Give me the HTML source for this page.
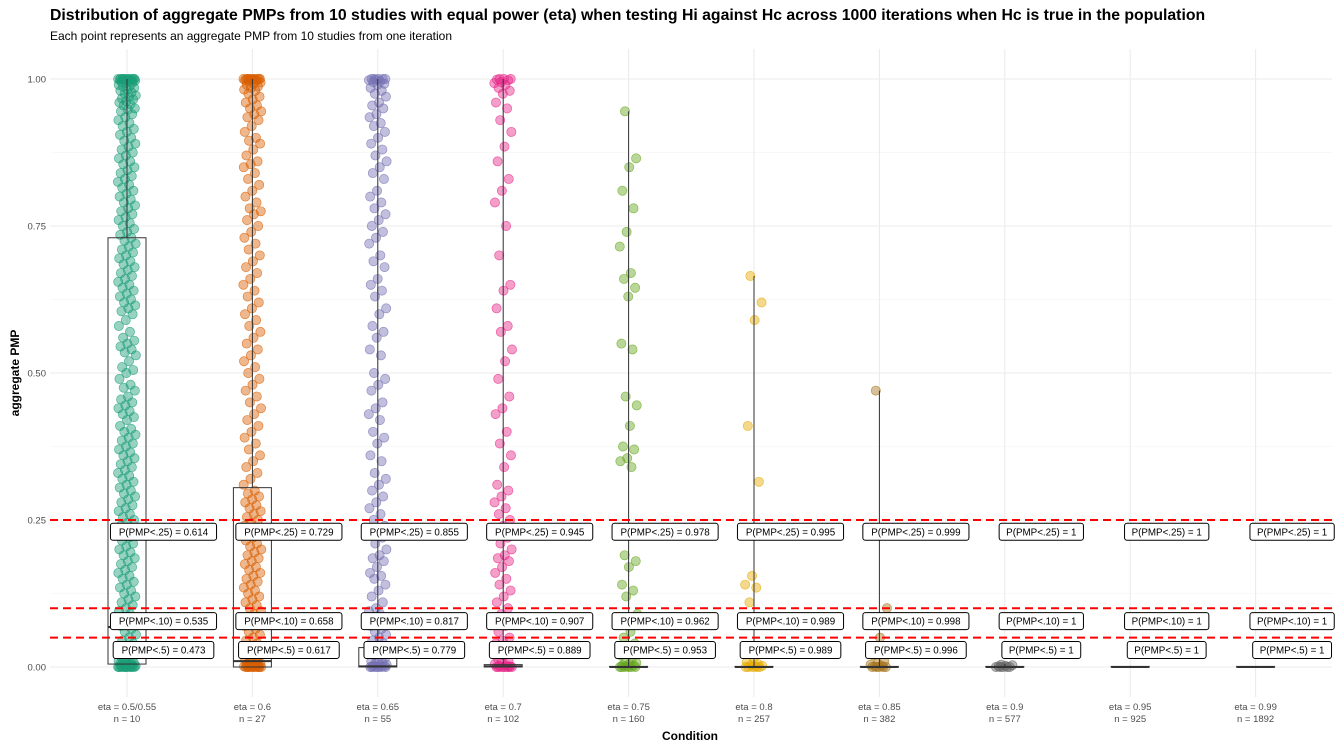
<!DOCTYPE html>
<html><head><meta charset="utf-8"><style>
body{margin:0;background:#fff;font-family:"Liberation Sans",Arial,sans-serif}
svg text{font-family:"Liberation Sans",Arial,sans-serif}
</style></head><body>
<svg id="chart" width="1338" height="749" xmlns="http://www.w3.org/2000/svg">
<text x="50" y="20" font-size="15.8" font-weight="bold" fill="#000">Distribution of aggregate PMPs from 10 studies with equal power (eta) when testing Hi against Hc across 1000 iterations when Hc is true in the population</text>
<text x="50" y="40" font-size="12" fill="#000">Each point represents an aggregate PMP from 10 studies from one iteration</text>
<g id="grid"></g>
<g id="marks"></g>
<g id="axes"></g>
<text transform="translate(19,373) rotate(-90)" text-anchor="middle" font-size="12" font-weight="bold">aggregate PMP</text>
<text x="690" y="740" text-anchor="middle" font-size="12" font-weight="bold">Condition</text>
</svg>
<script>
const categories=["eta = 0.5/0.55","eta = 0.6","eta = 0.65","eta = 0.7","eta = 0.75","eta = 0.8","eta = 0.85","eta = 0.9","eta = 0.95","eta = 0.99"];
const nLabels=["10","27","55","102","160","257","382","577","925","1892"];
const colors=["#1B9E77","#D95F02","#7570B3","#E7298A","#66A61E","#E6AB02","#A6761D","#666666","#666666","#666666"];
const p25=["0.614","0.729","0.855","0.945","0.978","0.995","0.999","1","1","1"];
const p10=["0.535","0.658","0.817","0.907","0.962","0.989","0.998","1","1","1"];
const p05=["0.473","0.617","0.779","0.889","0.953","0.989","0.996","1","1","1"];
const boxLow=[0.005,0,0,0,0,0,0,0,0,0];
const boxHigh=[0.73,0.305,0.033,0.004,0.001,0.001,0.001,0.001,0.001,0.001];
const boxMed=[0.068,0.01,0.001,0.001,0,0,0,0,0,0];
const whiskerHigh=[1,1,1,1,0.945,0.665,0.47,0.005,0.002,0.001];
const yTicks=[0,0.25,0.5,0.75,1];
const yTickLabels=["0.00","0.25","0.50","0.75","1.00"];
const thresholds=[0.25,0.10,0.05];
const g1=[1,1,1,1,1,1,1,1,1,1,0.999,0.999,0.998,0.998,0.997,0.996,0.995,0.994,0.993,0.99,0.988,0.987,0.985,0.982,0.98,0.977,0.975,0.972,0.97,0.967,0.965,0.962,0.96,0.957,0.955,0.95,0.948,0.945,0.94,0.935,0.93,0.925,0.92,0.915,0.91,0.905,0.9,0.895,0.89,0.885,0.88,0.875,0.87,0.865,0.86,0.855,0.85,0.845,0.84,0.835,0.83,0.825,0.82,0.815,0.81,0.805,0.8,0.795,0.79,0.785,0.78,0.775,0.77,0.765,0.76,0.755,0.75,0.745,0.74,0.735,0.73,0.725,0.72,0.715,0.71,0.705,0.7,0.695,0.69,0.685,0.68,0.675,0.67,0.665,0.66,0.655,0.65,0.645,0.64,0.635,0.63,0.625,0.62,0.615,0.61,0.605,0.6,0.59,0.58,0.57,0.56,0.555,0.55,0.545,0.54,0.535,0.53,0.52,0.51,0.505,0.5,0.49,0.48,0.475,0.47,0.46,0.455,0.45,0.445,0.44,0.435,0.43,0.425,0.42,0.41,0.405,0.4,0.395,0.39,0.385,0.38,0.375,0.37,0.365,0.36,0.355,0.35,0.345,0.34,0.335,0.33,0.325,0.32,0.315,0.31,0.305,0.3,0.295,0.29,0.285,0.28,0.275,0.27,0.265,0.26,0.255,0.25,0.245,0.24,0.235,0.23,0.225,0.22,0.215,0.21,0.205,0.2,0.195,0.19,0.185,0.18,0.175,0.17,0.165,0.16,0.155,0.15,0.145,0.14,0.135,0.13,0.125,0.12,0.115,0.11,0.105,0.1,0.095,0.09,0.085,0.08,0.075,0.07,0.065,0.06,0.055,0.05,0.045,0.04,0.035,0.03,0.027,0.025,0.022,0.02,0.017,0.015,0.012,0.01,0.009,0.008,0.007,0.006,0.005,0.004,0.003,0.002,0.002,0.001,0.001,0,0,0,0,0,0,0,0,0,0];
const g2=[1,1,1,1,1,1,1,1,1,1,0.999,0.998,0.997,0.996,0.994,0.992,0.99,0.987,0.985,0.982,0.98,0.975,0.97,0.965,0.96,0.955,0.95,0.945,0.94,0.935,0.93,0.92,0.91,0.9,0.895,0.89,0.88,0.87,0.86,0.855,0.85,0.84,0.83,0.82,0.81,0.8,0.79,0.78,0.775,0.77,0.76,0.75,0.74,0.73,0.72,0.71,0.7,0.69,0.68,0.67,0.66,0.65,0.64,0.63,0.62,0.61,0.6,0.59,0.58,0.57,0.56,0.55,0.54,0.53,0.52,0.51,0.5,0.49,0.48,0.47,0.46,0.45,0.44,0.43,0.42,0.41,0.4,0.39,0.38,0.37,0.36,0.35,0.34,0.33,0.32,0.31,0.3,0.295,0.29,0.285,0.28,0.275,0.27,0.265,0.26,0.255,0.25,0.245,0.24,0.235,0.23,0.225,0.22,0.215,0.21,0.205,0.2,0.195,0.19,0.185,0.18,0.175,0.17,0.165,0.16,0.155,0.15,0.145,0.14,0.135,0.13,0.125,0.12,0.115,0.11,0.105,0.1,0.095,0.09,0.085,0.08,0.075,0.07,0.065,0.06,0.055,0.05,0.045,0.04,0.035,0.03,0.025,0.02,0.017,0.015,0.012,0.01,0.008,0.006,0.005,0.004,0.003,0.002,0.001,0.001,0,0,0,0,0,0,0,0,0,0];
const g3=[1,1,1,1,1,0.999,0.998,0.996,0.995,0.992,0.99,0.985,0.98,0.975,0.97,0.96,0.955,0.95,0.94,0.935,0.925,0.92,0.91,0.9,0.89,0.88,0.87,0.86,0.85,0.84,0.83,0.81,0.8,0.79,0.78,0.77,0.76,0.75,0.74,0.73,0.72,0.7,0.69,0.68,0.66,0.65,0.64,0.63,0.61,0.6,0.58,0.57,0.56,0.54,0.53,0.5,0.49,0.48,0.47,0.45,0.44,0.43,0.42,0.4,0.39,0.38,0.36,0.35,0.33,0.32,0.31,0.3,0.29,0.28,0.27,0.26,0.25,0.24,0.235,0.23,0.22,0.21,0.2,0.19,0.185,0.18,0.17,0.16,0.155,0.15,0.14,0.13,0.12,0.11,0.1,0.095,0.09,0.085,0.08,0.075,0.07,0.065,0.06,0.055,0.05,0.045,0.04,0.035,0.03,0.025,0.02,0.015,0.012,0.01,0.008,0.006,0.004,0.003,0.002,0.001,0,0,0,0,0,0,0];
const g4=[1,1,1,0.999,0.998,0.995,0.993,0.99,0.985,0.98,0.975,0.96,0.95,0.93,0.91,0.885,0.86,0.83,0.81,0.79,0.75,0.7,0.65,0.64,0.61,0.58,0.57,0.54,0.52,0.49,0.46,0.44,0.43,0.4,0.38,0.36,0.34,0.31,0.3,0.29,0.28,0.27,0.26,0.25,0.24,0.23,0.22,0.21,0.2,0.19,0.185,0.18,0.17,0.16,0.15,0.14,0.13,0.12,0.11,0.1,0.09,0.08,0.07,0.06,0.05,0.045,0.04,0.035,0.03,0.025,0.02,0.015,0.01,0.008,0.005,0.003,0.002,0.001,0,0,0,0,0,0,0,0];
const g5=[0.945,0.865,0.85,0.81,0.78,0.74,0.715,0.67,0.66,0.645,0.63,0.55,0.54,0.46,0.445,0.41,0.375,0.37,0.355,0.35,0.34,0.19,0.18,0.17,0.14,0.13,0.12,0.09,0.06,0.05,0.04,0.03,0.02,0.015,0.01,0.007,0.005,0.003,0.002,0.001,0,0,0,0,0,0];
const g6=[0.665,0.62,0.59,0.41,0.315,0.155,0.14,0.135,0.11,0.03,0.015,0.008,0.005,0.003,0.002,0.001,0,0,0,0,0];
const g7=[0.47,0.1,0.05,0.02,0.01,0.006,0.004,0.002,0.001,0,0,0,0,0];
const g8=[0.004,0.003,0.002,0.001,0,0,0,0,0];
const g9=[];
const g10=[];
const groups=[g1,g2,g3,g4,g5,g6,g7,g8,g9,g10];

const NS="http://www.w3.org/2000/svg";
const X0=50,X1=1332,Y0=667,Y1=79;
const xScale=i=>127+i*125.4;
const yScale=v=>Y0-(Y0-Y1)*v;
function mk(tag,attrs,parent){const e=document.createElementNS(NS,tag);for(const k in attrs)e.setAttribute(k,attrs[k]);parent.appendChild(e);return e;}
const grid=document.getElementById('grid'),marks=document.getElementById('marks'),axes=document.getElementById('axes');
for(let k=0;k<4;k++){const v=yTicks[k]+0.125;const l=mk('line',{x1:X0,x2:X1,y1:yScale(v),y2:yScale(v),stroke:'#f2f2f2','stroke-width':0.6},grid);

}
yTicks.forEach((v,k)=>{const l=mk('line',{x1:X0,x2:X1,y1:yScale(v),y2:yScale(v),stroke:'#ebebeb','stroke-width':1.1},grid);


const t=mk('text',{x:46,y:yScale(v)+3.5,'text-anchor':'end','font-size':9.5,fill:'#4d4d4d'},axes);t.textContent=yTickLabels[k];

});
categories.forEach((c,i)=>{const x=xScale(i);
const l=mk('line',{x1:x,x2:x,y1:Y1-30,y2:Y0+30,stroke:'#ebebeb','stroke-width':1.1},grid);


const t=mk('text',{x:x,y:710,'text-anchor':'middle','font-size':9.5,fill:'#4d4d4d'},axes);t.textContent=c;


const t2=mk('text',{x:x,y:722,'text-anchor':'middle','font-size':9.5,fill:'#4d4d4d'},axes);t2.textContent="n =  "+nLabels[i];

});
groups.forEach((g,i)=>{const cx=xScale(i);g.forEach((v,j)=>{const off=(((j*0.6180339+0.3)%1)-0.5)*18;
const c=mk('circle',{cx:cx+off,cy:yScale(v),r:4.6,fill:colors[i],'fill-opacity':0.45,stroke:colors[i],'stroke-opacity':0.7,'stroke-width':0.7},marks);

});});
categories.forEach((c,i)=>{const cx=xScale(i),w=38;
const wl=mk('line',{x1:cx,x2:cx,y1:yScale(whiskerHigh[i]),y2:yScale(boxHigh[i]),stroke:'#333','stroke-width':1},marks);


const r=mk('rect',{x:cx-w/2,y:yScale(boxHigh[i]),width:w,height:Math.max(0.5,yScale(boxLow[i])-yScale(boxHigh[i])),fill:'none',stroke:'#333','stroke-width':1},marks);


const m=mk('line',{x1:cx-w/2,x2:cx+w/2,y1:yScale(boxMed[i]),y2:yScale(boxMed[i]),stroke:'#333','stroke-width':2},marks);

});
thresholds.forEach(v=>{const l=mk('line',{x1:X0,x2:X1,y1:yScale(v),y2:yScale(v),stroke:'#ff0000','stroke-width':2,'stroke-dasharray':'8,5'},marks);

});
const labelSets=[[p25,"P(PMP<.25) = ",0.23],[p10,"P(PMP<.10) = ",0.078],[p05,"P(PMP<.5) = ",0.029]];
labelSets.forEach(([arr,pre,yv])=>{arr.forEach((val,i)=>{const cx=xScale(i)+36.5,cy=yScale(yv);
const txt=pre+val;const w=txt.length*5.45+8;
const r=mk('rect',{x:cx-w/2,y:cy-8.5,width:w,height:17,rx:2.5,fill:'#fff',stroke:'#000','stroke-width':1},marks);


const t=mk('text',{x:cx,y:cy+3.5,'text-anchor':'middle','font-size':9.8,fill:'#000'},marks);t.textContent=txt;

});});
</script>
</body></html>
